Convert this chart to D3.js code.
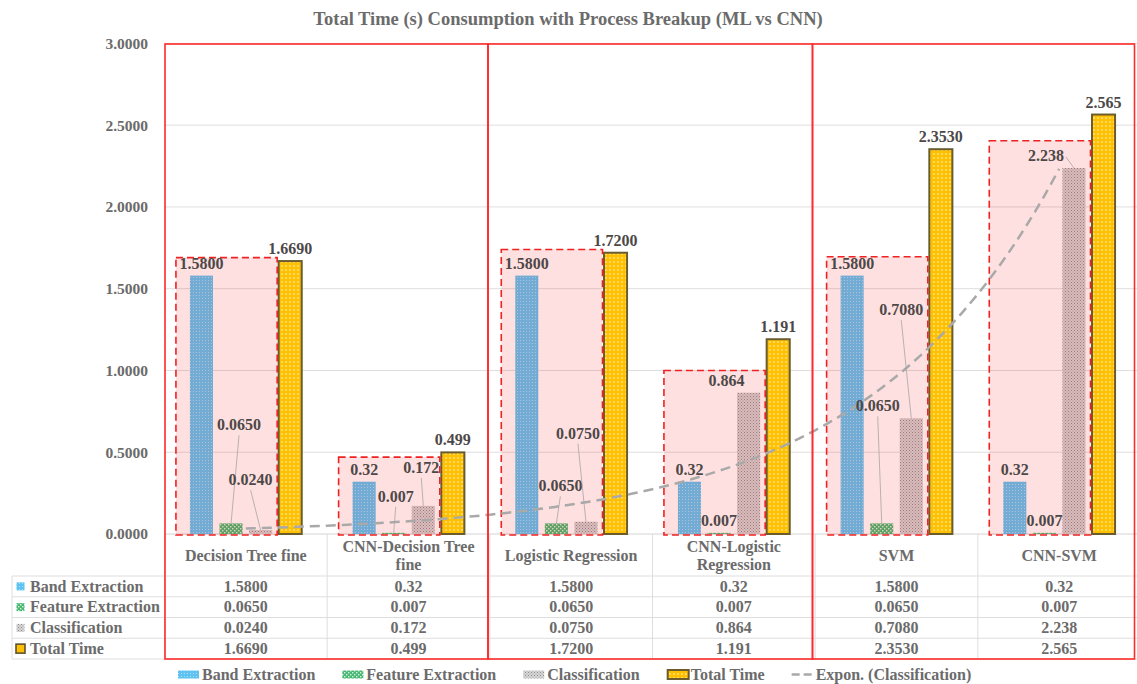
<!DOCTYPE html>
<meta charset="utf-8">
<head>
<title>Total Time (s) Consumption with Process Breakup</title>
<script src="https://d3js.org/d3.v7.min.js"></script>
<style>
  body { margin: 0; background: #fff; }
  text { font-family: "Liberation Serif", "Times New Roman", serif; font-weight: bold; }
</style>
</head>

<div id="chart"></div>

<script>
  // data
  var categories = ["Decision Tree fine", "CNN-Decision Tree fine", "Logistic Regression",
                    "CNN-Logistic Regression", "SVM", "CNN-SVM"];
  var headerLines = [["Decision Tree fine"], ["CNN-Decision Tree", "fine"], ["Logistic Regression"],
                     ["CNN-Logistic", "Regression"], ["SVM"], ["CNN-SVM"]];
  var seriesNames = ["Band Extraction", "Feature Extraction", "Classification", "Total Time"];

  var bandExtraction    = [1.58, 0.32, 1.58, 0.32, 1.58, 0.32];
  var featureExtraction = [0.065, 0.007, 0.065, 0.007, 0.065, 0.007];
  var classification    = [0.024, 0.172, 0.075, 0.864, 0.708, 2.238];
  var totalTime         = [1.669, 0.499, 1.72, 1.191, 2.353, 2.565];

  // the numbers as printed (labels + table)
  var bandText    = ["1.5800", "0.32", "1.5800", "0.32", "1.5800", "0.32"];
  var featureText = ["0.0650", "0.007", "0.0650", "0.007", "0.0650", "0.007"];
  var classText   = ["0.0240", "0.172", "0.0750", "0.864", "0.7080", "2.238"];
  var totalText   = ["1.6690", "0.499", "1.7200", "1.191", "2.3530", "2.565"];

  var yTicks = [0, 0.5, 1, 1.5, 2, 2.5, 3];

  // tops of the red dashed highlight boxes (in axis units)
  var highlightTop = [1.69, 0.47, 1.74, 1.0, 1.695, 2.405];

  var seriesValues = [bandExtraction, featureExtraction, classification, totalTime];
  var seriesText = [bandText, featureText, classText, totalText];

  // label nudges [dx, dy, leader line] from the default spot above the bar
  var labelNudge = [
    [null, null, null, null, null, null],
    [[8, -86, 1], [2, -24, 1], [4, -25, 1], null, [-4, -105, 1], null],
    [[-10, -38, 1], [-2, -26, 1], [-8, -76, 1], [-22, 0, 0], [-10, -96, 1], [-28, 0, 1]],
    [null, null, null, null, null, null]
  ];

  var W = 1137, H = 684;
  var plotLeft = 164.5, plotRight = 1140.5, y0 = 534, yTop = 43.4;
  var tableLeft = 12, rowTop = 576, rowH = 20.75;
  var grey = "#6b6b6b", labelGrey = "#4d4848", gridGrey = "#dedede";

  var svg = d3.select("#chart").append("svg")
    .attr("width", W).attr("height", H);
  var defs = svg.append("defs");

  // fill patterns
  function pattern(id, size, base) {
    var p = defs.append("pattern").attr("id", id)
      .attr("patternUnits", "userSpaceOnUse")
      .attr("width", size).attr("height", size);
    p.append("rect").attr("width", size).attr("height", size).attr("fill", base);
    return p;
  }
  pattern("pBand", 3, "#5fc3f2")
    .append("rect").attr("x", 1).attr("y", 1).attr("width", 1).attr("height", 1)
    .attr("fill", "#fff").attr("opacity", 0.45);
  var pf = pattern("pFeat", 4, "#48b874");
  pf.append("rect").attr("x", 0).attr("y", 0).attr("width", 1.4).attr("height", 1.4).attr("fill", "#d8f0df");
  pf.append("rect").attr("x", 2).attr("y", 2).attr("width", 1.4).attr("height", 1.4).attr("fill", "#d8f0df");
  var pc = pattern("pClass", 3, "#d6d6d6");
  pc.append("rect").attr("x", 0).attr("y", 0).attr("width", 1).attr("height", 1).attr("fill", "#8e8e8e");
  pc.append("rect").attr("x", 1.5).attr("y", 1.5).attr("width", 1).attr("height", 1).attr("fill", "#9e9e9e");
  pattern("pTotal", 4, "#ffc000")
    .append("circle").attr("cx", 2).attr("cy", 2).attr("r", 0.8).attr("fill", "#fff8e0");

  var seriesFill = ["url(#pBand)", "url(#pFeat)", "url(#pClass)", "url(#pTotal)"];

  // scales
  var x = d3.scaleBand().domain(categories).range([plotLeft, plotRight]);
  var inner = d3.scaleBand().domain(seriesNames).range([0, x.bandwidth()])
    .paddingInner(0.22).paddingOuter(0.86);
  var y = d3.scaleLinear().domain([0, 3]).range([y0, yTop]);

  // title
  svg.append("text")
    .attr("x", 568).attr("y", 25)
    .attr("text-anchor", "middle")
    .style("font-size", "18.5px")
    .style("fill", grey)
    .text("Total Time (s) Consumption with Process Breakup (ML vs CNN)");

  // gridlines
  svg.append("g").selectAll("line")
    .data(yTicks.slice(1))
    .enter().append("line")
      .attr("x1", plotLeft).attr("x2", plotRight)
      .attr("y1", function(d) { return y(d); })
      .attr("y2", function(d) { return y(d); })
      .style("stroke", gridGrey).style("stroke-width", 1);

  // y axis
  var yAxis = svg.append("g")
    .attr("transform", "translate(" + plotLeft + ",0)")
    .call(d3.axisLeft(y).tickValues(yTicks).tickFormat(d3.format(".4f")).tickSize(0).tickPadding(16.5));
  yAxis.select(".domain").remove();
  yAxis.selectAll("text")
    .style("font-size", "15.5px")
    .style("font-family", "'Liberation Serif', serif")
    .style("font-weight", "bold")
    .style("fill", grey);

  // table grid
  var table = svg.append("g");
  table.append("line")
    .attr("x1", plotLeft).attr("x2", plotRight).attr("y1", y0).attr("y2", y0)
    .style("stroke", "#d4d4d4");
  d3.range(5).forEach(function(i) {
    var yy = rowTop + i * rowH;
    table.append("line")
      .attr("x1", tableLeft).attr("x2", plotRight).attr("y1", yy).attr("y2", yy)
      .style("stroke", gridGrey);
  });
  table.append("line")
    .attr("x1", tableLeft).attr("x2", tableLeft)
    .attr("y1", rowTop).attr("y2", rowTop + 4 * rowH)
    .style("stroke", gridGrey);
  categories.forEach(function(c) {
    table.append("line")
      .attr("x1", x(c)).attr("x2", x(c))
      .attr("y1", y0).attr("y2", rowTop + 4 * rowH)
      .style("stroke", gridGrey);
  });

  // category header
  categories.forEach(function(c, i) {
    var lines = headerLines[i];
    var t = table.append("text")
      .attr("text-anchor", "middle")
      .style("font-size", "16px").style("fill", grey);
    lines.forEach(function(l, k) {
      t.append("tspan")
        .attr("x", x(c) + x.bandwidth() / 2)
        .attr("y", lines.length == 1 ? 561 : 551.5 + k * 18)
        .text(l);
    });
  });

  // row headers with keys
  seriesNames.forEach(function(s, j) {
    var cy = rowTop + j * rowH + rowH / 2;
    if (j == 3) {
      table.append("rect").attr("x", 16).attr("y", cy - 4.5).attr("width", 9).attr("height", 9)
        .style("fill", "#ffc000").style("stroke", "#5e5230").style("stroke-width", 1.6);
    } else {
      table.append("rect").attr("x", 16.5).attr("y", cy - 4).attr("width", 8).attr("height", 8)
        .style("fill", seriesFill[j]);
    }
    table.append("text")
      .attr("x", 30).attr("y", cy + 5.3)
      .style("font-size", "16px").style("fill", grey)
      .text(s);
    seriesText[j].forEach(function(v, i) {
      table.append("text")
        .attr("x", x(categories[i]) + x.bandwidth() / 2).attr("y", cy + 5.3)
        .attr("text-anchor", "middle")
        .style("font-size", "16px").style("fill", grey)
        .text(v);
    });
  });

  // bars
  seriesNames.forEach(function(s, j) {
    svg.append("g").selectAll("rect")
      .data(seriesValues[j])
      .enter().append("rect")
        .attr("x", function(d, i) { return x(categories[i]) + inner(s); })
        .attr("y", function(d) { return y(d); })
        .attr("width", inner.bandwidth())
        .attr("height", function(d) { return y0 - y(d); })
        .style("fill", seriesFill[j])
        .style("stroke", j == 3 ? "#6b5c2e" : "none")
        .style("stroke-width", 2);
  });

  // red dashed highlight boxes over the process bars
  svg.append("g").selectAll("rect")
    .data(highlightTop)
    .enter().append("rect")
      .attr("x", function(d, i) { return x(categories[i]) + inner(seriesNames[0]) - 14; })
      .attr("y", function(d) { return y(d); })
      .attr("width", inner(seriesNames[3]) - inner(seriesNames[0]) + 12.5)
      .attr("height", function(d) { return y0 + 1 - y(d); })
      .style("fill", "#ff0000").style("fill-opacity", 0.12)
      .style("stroke", "#ee2222").style("stroke-width", 1.6)
      .style("stroke-dasharray", "7,4");

  // exponential trendline of Classification
  var xs = d3.range(1, categories.length + 1);
  var lnv = classification.map(Math.log);
  var mx = d3.mean(xs), my = d3.mean(lnv);
  var b = d3.sum(xs, function(d, i) { return (d - mx) * (lnv[i] - my); }) /
          d3.sum(xs, function(d) { return (d - mx) * (d - mx); });
  var a = Math.exp(my - b * mx);
  var tx = d3.scaleLinear().domain([1, categories.length])
    .range([x(categories[0]) + x.bandwidth() / 2, x(categories[categories.length - 1]) + x.bandwidth() / 2]);
  var trend = d3.range(1, categories.length + 0.001, 0.05);
  svg.append("path")
    .datum(trend)
    .attr("d", d3.line()
      .x(function(t) { return tx(t); })
      .y(function(t) { return y(a * Math.exp(b * t)); }))
    .style("fill", "none")
    .style("stroke", "#a9a9a9")
    .style("stroke-width", 2.5)
    .style("stroke-dasharray", "10,6");

  // group frames
  var groupEdges = [165, 488, 812.5, 1134.5];
  d3.range(3).forEach(function(g) {
    svg.append("rect")
      .attr("x", groupEdges[g]).attr("y", 44)
      .attr("width", groupEdges[g + 1] - groupEdges[g])
      .attr("height", 615)
      .style("fill", "none").style("stroke", "#ff2a2a").style("stroke-width", 1.6);
  });

  // data labels
  var labels = svg.append("g");
  seriesNames.forEach(function(s, j) {
    seriesValues[j].forEach(function(v, i) {
      var bx = x(categories[i]) + inner(s) + inner.bandwidth() / 2;
      var by = y(v);
      var n = labelNudge[j][i] || [0, 0, 0];
      var lx = bx + n[0], ly = by - 7 + n[1];
      var t = labels.append("text")
        .attr("x", lx).attr("y", ly)
        .attr("text-anchor", "middle")
        .style("font-size", "16px").style("fill", labelGrey)
        .text(seriesText[j][i]);
      if (n[2]) {
        var w = t.node().getComputedTextLength();
        var sx = lx, sy = ly + 5;
        if (by - ly < 15) { sx = lx + w / 2 + 2; sy = ly - 4; }
        labels.append("line")
          .attr("x1", sx).attr("y1", sy).attr("x2", bx).attr("y2", by)
          .style("stroke", "#a6a6a6").style("stroke-width", 0.8);
      }
    });
  });

  // legend
  var legend = svg.append("g");
  var lx0 = 178, ly = 674.5;
  var legendItems = seriesNames.concat(["Expon. (Classification)"]);
  legendItems.forEach(function(s, j) {
    if (j < 3) {
      legend.append("rect").attr("x", lx0).attr("y", ly - 4).attr("width", 21).attr("height", 8)
        .style("fill", seriesFill[j]);
    } else if (j == 3) {
      legend.append("rect").attr("x", lx0 + 1).attr("y", ly - 4.5).attr("width", 21).attr("height", 9)
        .style("fill", seriesFill[3]).style("stroke", "#6b5c2e").style("stroke-width", 2);
    } else {
      legend.append("line").attr("x1", lx0).attr("x2", lx0 + 20).attr("y1", ly).attr("y2", ly)
        .style("stroke", "#a9a9a9").style("stroke-width", 2.5).style("stroke-dasharray", "8,4");
    }
    var t = legend.append("text")
      .attr("x", lx0 + 24).attr("y", ly + 5.3)
      .style("font-size", "16px").style("fill", grey)
      .text(s);
    lx0 += 24 + t.node().getComputedTextLength() + 27;
  });
</script>
